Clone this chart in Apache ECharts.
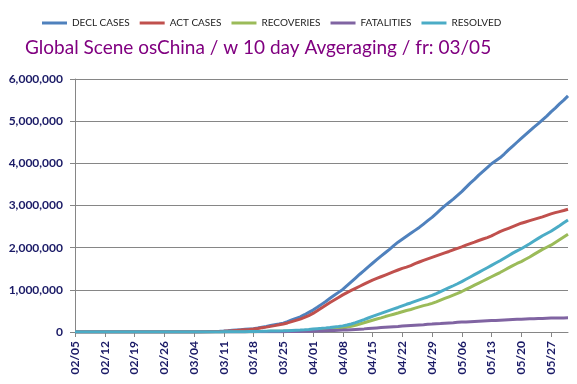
<!DOCTYPE html>
<html>
<head>
<meta charset="utf-8">
<script src="https://cdn.jsdelivr.net/npm/echarts@6/dist/echarts.min.js"></script>
<style>
html,body{margin:0;padding:0;background:#fff;}
#chart{width:577px;height:384px;}
</style>
</head>
<body>
<div id="chart"></div>
<script>
// Category labels: daily dates 02/05 .. 05/31 (2020)
const startDate = new Date(2020, 1, 5);
const dayCount = 117;
const categories = [];
for (let i = 0; i < dayCount; i++) {
  const d = new Date(startDate.getFullYear(), startDate.getMonth(), startDate.getDate() + i);
  categories.push(String(d.getMonth() + 1).padStart(2, '0') + '/' + String(d.getDate()).padStart(2, '0'));
}

// Series values, in thousands of people
const declCases = [
  0,0,0,0,0,0,0,0,0,0, 0,0,0,0,0,0,0,0,0,0, 0,0,0,0,0,0,0,0,0,0,
  3,6,10,14,19,25,32,40,48,56,
  64,72,80,96,114,132,152,172,190,210,
  245,285,325,360,410,465,520,585,655,725,
  800,870,940,1010,1100,1190,1280,1370,1455,1545,
  1630,1715,1800,1880,1960,2050,2130,2200,2270,2340,
  2410,2480,2560,2640,2720,2810,2900,2990,3070,3150,
  3240,3330,3430,3530,3620,3720,3810,3900,3990,4060,
  4130,4220,4320,4410,4500,4590,4680,4770,4860,4940,
  5030,5120,5220,5310,5410,5500,5600
];
const actCases = [
  0,0,0,0,0,0,0,0,0,0, 0,0,0,0,0,0,0,0,0,0, 0,0,0,0,0,0,0,0,0,0,
  2,4,7,10,14,19,25,31,38,45,
  53,61,70,84,100,116,133,151,170,190,
  215,245,275,305,345,390,440,505,570,635,
  700,760,820,880,935,985,1035,1085,1135,1185,
  1230,1270,1310,1350,1390,1430,1470,1510,1540,1575,
  1620,1660,1700,1735,1770,1805,1840,1875,1910,1950,
  1985,2020,2060,2095,2130,2170,2205,2240,2280,2330,
  2380,2420,2460,2500,2540,2580,2610,2640,2670,2700,
  2730,2765,2800,2830,2855,2880,2910
];
const recoveries = [
  0,0,0,0,0,0,0,0,0,0, 0,0,0,0,0,0,0,0,0,0, 0,0,0,0,0,0,0,0,0,0,
  0,1,1,1,2,2,3,3,4,5,
  6,7,8,10,11,13,15,17,18,20,
  23,26,29,32,37,43,50,56,62,68,
  75,83,91,100,115,135,160,190,220,250,
  280,308,336,366,394,422,450,480,510,535,
  565,595,625,650,680,715,755,795,835,875,
  915,960,1010,1060,1110,1160,1210,1260,1310,1360,
  1410,1465,1520,1575,1625,1670,1725,1780,1840,1900,
  1960,2010,2060,2125,2190,2255,2320
];
const fatalities = [
  0,0,0,0,0,0,0,0,0,0, 0,0,0,0,0,0,0,0,0,0, 0,0,0,0,0,0,0,0,0,0,
  0,0,0,0,0,1,1,1,2,2,
  2,3,3,4,4,5,6,6,7,8,
  9,11,13,14,16,18,20,23,26,30,
  34,38,41,45,50,56,62,68,74,82,
  90,97,104,111,118,125,132,140,147,154,
  161,168,174,181,188,197,203,210,216,222,
  229,235,240,245,250,255,260,265,270,275,
  280,285,290,295,300,305,309,313,317,320,
  323,327,330,331,332,334,335
];
const resolved = [
  0,0,0,0,0,0,0,0,0,0, 0,0,0,0,0,0,0,0,0,0, 0,0,0,0,0,0,0,0,0,0,
  0,1,1,1,2,3,4,4,6,7,
  8,10,11,14,15,18,21,23,25,28,
  32,37,42,46,53,61,70,79,88,98,
  109,121,132,145,165,191,222,258,294,332,
  370,405,440,477,512,547,582,620,657,689,
  726,763,799,831,868,912,958,1005,1051,1097,
  1144,1195,1250,1305,1360,1415,1470,1525,1580,1635,
  1690,1750,1810,1870,1925,1975,2034,2093,2157,2220,
  2283,2337,2390,2456,2522,2589,2655
];
const UNIT = 1000;

const seriesNames = ['DECL CASES', 'ACT CASES', 'RECOVERIES', 'FATALITIES', 'RESOLVED'];
const seriesData = [declCases, actCases, recoveries, fatalities, resolved];
const seriesColors = ['#4F81BD', '#C0504D', '#9BBB59', '#8064A2', '#4BACC6'];

const labelColor = '#1a1a66';
const axisGray = '#868686';
const fontFam = 'Lato, "Open Sans", sans-serif';

const chart = echarts.init(document.getElementById('chart'), null, {renderer: 'canvas'});
chart.setOption({
  animation: false,
  backgroundColor: '#ffffff',
  title: {
    text: 'Global Scene osChina / w 10 day Avgeraging / fr: 03/05',
    left: 20,
    top: 33,
    textStyle: {color: '#800080', fontFamily: fontFam, fontSize: 19, fontWeight: 'normal'}
  },
  legend: {
    data: seriesNames,
    left: 37,
    top: 13,
    icon: 'rect',
    itemWidth: 25,
    itemHeight: 3,
    itemGap: 10,
    textStyle: {color: '#222', fontFamily: fontFam, fontSize: 10}
  },
  grid: {left: 75, right: 9, top: 79, bottom: 52, containLabel: false},
  xAxis: {
    type: 'category',
    data: categories,
    boundaryGap: false,
    axisLine: {lineStyle: {color: axisGray, width: 1}},
    axisTick: {show: true, interval: 6, length: 5, lineStyle: {color: axisGray}},
    axisLabel: {interval: 6, rotate: 90, margin: 9, color: labelColor, fontFamily: fontFam, fontSize: 12, fontWeight: 'bold'},
    splitLine: {show: false}
  },
  yAxis: {
    type: 'value',
    min: 0,
    max: 6000000,
    interval: 1000000,
    axisLine: {show: true, lineStyle: {color: axisGray, width: 1}},
    axisTick: {show: true, length: 5, lineStyle: {color: axisGray}},
    axisLabel: {
      margin: 12, color: labelColor, fontFamily: fontFam, fontSize: 12, fontWeight: 'bold',
      formatter: v => v.toLocaleString('en-US')
    },
    splitLine: {lineStyle: {color: axisGray, width: 1}}
  },
  series: seriesNames.map((name, i) => ({
    name: name,
    type: 'line',
    data: seriesData[i].map(v => v * UNIT),
    showSymbol: false,
    symbol: 'none',
    lineStyle: {color: seriesColors[i], width: 3},
    itemStyle: {color: seriesColors[i]},
    z: 2 + i
  }))
});
</script>
</body>
</html>
